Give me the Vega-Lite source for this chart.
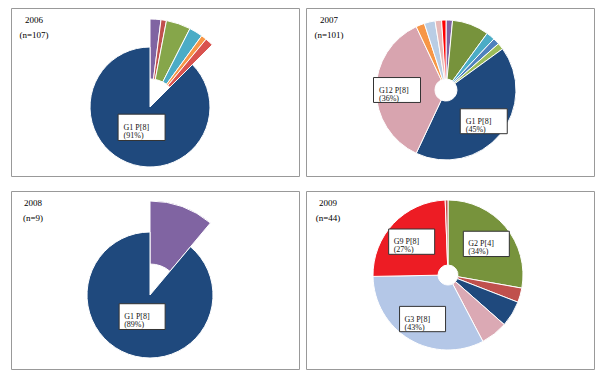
{
  "$schema": "https://vega.github.io/schema/vega-lite/v6.json",
  "background": "white",
  "padding": {"left": 10, "top": 7, "right": 0, "bottom": 0},
  "config": {
    "view": {"stroke": "#999999", "strokeWidth": 1},
    "text": {"lineBreak": "\n"},
    "title": {"anchor": "start", "frame": "group", "orient": "top", "baseline": "top", "offset": -32, "font": "Liberation Serif", "fontSize": 9, "fontWeight": "normal", "lineHeight": 15, "color": "#000000"}
  },
  "datasets": {
    "d2006": [
      {"i": 1, "slice": "other 1", "value": 2, "label": ""},
      {"i": 2, "slice": "other 2", "value": 1, "label": ""},
      {"i": 3, "slice": "other 3", "value": 4.5, "label": ""},
      {"i": 4, "slice": "other 4", "value": 2.5, "label": ""},
      {"i": 5, "slice": "other 5", "value": 1, "label": ""},
      {"i": 6, "slice": "other 6", "value": 1.5, "label": ""},
      {"i": 7, "slice": "G1 P[8]", "value": 87.5, "label": "G1 P[8]\n(91%)"}
    ],
    "d2007": [
      {"i": 1, "slice": "other 1", "value": 1.5, "label": ""},
      {"i": 2, "slice": "other 2", "value": 8.5, "label": ""},
      {"i": 3, "slice": "other 3", "value": 2, "label": ""},
      {"i": 4, "slice": "other 4", "value": 1.5, "label": ""},
      {"i": 5, "slice": "other 5", "value": 1.5, "label": ""},
      {"i": 6, "slice": "G1 P[8]", "value": 42, "label": "G1 P[8]\n(45%)"},
      {"i": 7, "slice": "G12 P[8]", "value": 36, "label": "G12 P[8]\n(36%)"},
      {"i": 8, "slice": "other 6", "value": 2, "label": ""},
      {"i": 9, "slice": "other 7", "value": 2.5, "label": ""},
      {"i": 10, "slice": "other 8", "value": 1.5, "label": ""},
      {"i": 11, "slice": "other 9", "value": 1, "label": ""}
    ],
    "d2008": [
      {"i": 1, "slice": "other 1", "value": 1, "label": ""},
      {"i": 2, "slice": "G1 P[8]", "value": 8, "label": "G1 P[8]\n(89%)"}
    ],
    "d2009": [
      {"i": 1, "slice": "G2 P[4]", "value": 27.8, "label": "G2 P[4]\n(34%)"},
      {"i": 2, "slice": "other 1", "value": 3.1, "label": ""},
      {"i": 3, "slice": "other 2", "value": 5.6, "label": ""},
      {"i": 4, "slice": "other 3", "value": 5.8, "label": ""},
      {"i": 5, "slice": "G3 P[8]", "value": 32.4, "label": "G3 P[8]\n(43%)"},
      {"i": 6, "slice": "G9 P[8]", "value": 24.7, "label": "G9 P[8]\n(27%)"},
      {"i": 7, "slice": "other 4", "value": 0.6, "label": ""}
    ]
  },
  "resolve": {"scale": {"color": "independent", "theta": "independent"}},
  "spacing": 13,
  "vconcat": [
    {
      "resolve": {"scale": {"color": "independent", "theta": "independent"}},
      "spacing": 5,
      "hconcat": [
        {
          "width": 288, "height": 168,
          "view": {"stroke": "#999999", "strokeWidth": 1},
          "data": {"name": "d2006"},
          "title": {"text": ["2006", "(n=107)"], "align": "center", "dx": 23},
          "layer": [
            {
              "mark": {"type": "arc", "stroke": "white", "strokeWidth": 1, "x": 139, "y": 99},
              "encoding": {
                "theta": {"field": "value", "type": "quantitative", "stack": true},
                "order": {"field": "i", "type": "quantitative"},
                "color": {"field": "slice", "type": "nominal", "legend": null,
                  "scale": {"domain": ["other 1", "other 2", "other 3", "other 4", "other 5", "other 6", "G1 P[8]"],
                            "range": ["#8064a2", "#c0504d", "#86a64a", "#4bacc6", "#f79646", "#d9534f", "#1f497d"]}},
                "radius": {"value": {"expr": "datum.slice === 'G1 P[8]' ? 60 : 88"}},
                "radius2": {"value": {"expr": "datum.slice === 'G1 P[8]' ? 0 : 28"}}
              }
            },
            {
              "transform": [
                {"joinaggregate": [{"op": "sum", "field": "value", "as": "total"}]},
                {"stack": "value", "groupby": [], "sort": [{"field": "i", "order": "ascending"}], "as": ["v0", "v1"]},
                {"filter": "datum.label !== ''"}
              ],
              "mark": {"type": "point", "shape": "M-1,-0.56H1V0.56H-1Z", "size": 2209, "filled": true, "fill": "white", "fillOpacity": 1, "stroke": "#333333", "strokeWidth": 1, "opacity": 1,
                "x": {"expr": "139 + 22*sin(PI*(datum.v0+datum.v1)/datum.total)"},
                "y": {"expr": "99 - 22*cos(PI*(datum.v0+datum.v1)/datum.total)"}},
              "encoding": {}
            },
            {
              "transform": [
                {"joinaggregate": [{"op": "sum", "field": "value", "as": "total"}]},
                {"stack": "value", "groupby": [], "sort": [{"field": "i", "order": "ascending"}], "as": ["v0", "v1"]},
                {"filter": "datum.label !== ''"}
              ],
              "mark": {"type": "text", "font": "Liberation Serif", "fontSize": 8, "lineHeight": 8, "color": "#111111", "align": "left", "dx": -18, "dy": 0.5, "baseline": "middle",
                "x": {"expr": "139 + 22*sin(PI*(datum.v0+datum.v1)/datum.total)"},
                "y": {"expr": "99 - 22*cos(PI*(datum.v0+datum.v1)/datum.total)"}},
              "encoding": {"text": {"field": "label"}}
            }
          ]
        },
        {
          "width": 288, "height": 168,
          "view": {"stroke": "#999999", "strokeWidth": 1},
          "data": {"name": "d2007"},
          "title": {"text": ["2007", "(n=101)"], "align": "center", "dx": 23},
          "layer": [
            {
              "mark": {"type": "arc", "stroke": "white", "strokeWidth": 1, "x": 140, "y": 82},
              "encoding": {
                "theta": {"field": "value", "type": "quantitative", "stack": true},
                "order": {"field": "i", "type": "quantitative"},
                "color": {"field": "slice", "type": "nominal", "legend": null,
                  "scale": {"domain": ["other 1", "other 2", "other 3", "other 4", "other 5", "G1 P[8]", "G12 P[8]", "other 6", "other 7", "other 8", "other 9"],
                            "range": ["#8064a2", "#77933c", "#4bacc6", "#4f81bd", "#9bbb59", "#1f497d", "#d8a4af", "#f79646", "#b9cde5", "#e6b9b8", "#ff0000"]}},
                "radius": {"value": 70},
                "radius2": {"value": 11}
              }
            },
            {
              "transform": [
                {"joinaggregate": [{"op": "sum", "field": "value", "as": "total"}]},
                {"stack": "value", "groupby": [], "sort": [{"field": "i", "order": "ascending"}], "as": ["v0", "v1"]},
                {"filter": "datum.label !== ''"}
              ],
              "mark": {"type": "point", "shape": "M-1,-0.53H1V0.53H-1Z", "size": 2209, "filled": true, "fill": "white", "fillOpacity": 1, "stroke": "#333333", "strokeWidth": 1, "opacity": 1,
                "x": {"expr": "140 + 49*sin(PI*(datum.v0+datum.v1)/datum.total)"},
                "y": {"expr": "82 - 49*cos(PI*(datum.v0+datum.v1)/datum.total)"}},
              "encoding": {}
            },
            {
              "transform": [
                {"joinaggregate": [{"op": "sum", "field": "value", "as": "total"}]},
                {"stack": "value", "groupby": [], "sort": [{"field": "i", "order": "ascending"}], "as": ["v0", "v1"]},
                {"filter": "datum.label !== ''"}
              ],
              "mark": {"type": "text", "font": "Liberation Serif", "fontSize": 8, "lineHeight": 8, "color": "#111111", "align": "left", "dx": -18, "dy": 0.5, "baseline": "middle",
                "x": {"expr": "140 + 49*sin(PI*(datum.v0+datum.v1)/datum.total)"},
                "y": {"expr": "82 - 49*cos(PI*(datum.v0+datum.v1)/datum.total)"}},
              "encoding": {"text": {"field": "label"}}
            }
          ]
        }
      ]
    },
    {
      "resolve": {"scale": {"color": "independent", "theta": "independent"}},
      "spacing": 5,
      "hconcat": [
        {
          "width": 288, "height": 178,
          "view": {"stroke": "#999999", "strokeWidth": 1},
          "data": {"name": "d2008"},
          "title": {"text": ["2008", "(n=9)"], "align": "center", "dx": 22},
          "layer": [
            {
              "mark": {"type": "arc", "stroke": "white", "strokeWidth": 1, "x": 139, "y": 104},
              "encoding": {
                "theta": {"field": "value", "type": "quantitative", "stack": true},
                "order": {"field": "i", "type": "quantitative"},
                "color": {"field": "slice", "type": "nominal", "legend": null,
                  "scale": {"domain": ["other 1", "G1 P[8]"], "range": ["#8064a2", "#1f497d"]}},
                "radius": {"value": {"expr": "datum.slice === 'G1 P[8]' ? 63 : 94"}},
                "radius2": {"value": {"expr": "datum.slice === 'G1 P[8]' ? 0 : 31"}}
              }
            },
            {
              "transform": [
                {"joinaggregate": [{"op": "sum", "field": "value", "as": "total"}]},
                {"stack": "value", "groupby": [], "sort": [{"field": "i", "order": "ascending"}], "as": ["v0", "v1"]},
                {"filter": "datum.label !== ''"}
              ],
              "mark": {"type": "point", "shape": "M-1,-0.56H1V0.56H-1Z", "size": 2116, "filled": true, "fill": "white", "fillOpacity": 1, "stroke": "#333333", "strokeWidth": 1, "opacity": 1,
                "x": {"expr": "139 + 23*sin(PI*(datum.v0+datum.v1)/datum.total)"},
                "y": {"expr": "104 - 23*cos(PI*(datum.v0+datum.v1)/datum.total)"}},
              "encoding": {}
            },
            {
              "transform": [
                {"joinaggregate": [{"op": "sum", "field": "value", "as": "total"}]},
                {"stack": "value", "groupby": [], "sort": [{"field": "i", "order": "ascending"}], "as": ["v0", "v1"]},
                {"filter": "datum.label !== ''"}
              ],
              "mark": {"type": "text", "font": "Liberation Serif", "fontSize": 8, "lineHeight": 8, "color": "#111111", "align": "left", "dx": -18, "dy": 0.5, "baseline": "middle",
                "x": {"expr": "139 + 23*sin(PI*(datum.v0+datum.v1)/datum.total)"},
                "y": {"expr": "104 - 23*cos(PI*(datum.v0+datum.v1)/datum.total)"}},
              "encoding": {"text": {"field": "label"}}
            }
          ]
        },
        {
          "width": 288, "height": 178,
          "view": {"stroke": "#999999", "strokeWidth": 1},
          "data": {"name": "d2009"},
          "title": {"text": ["2009", "(n=44)"], "align": "center", "dx": 22},
          "layer": [
            {
              "mark": {"type": "arc", "stroke": "white", "strokeWidth": 1, "x": 142, "y": 84},
              "encoding": {
                "theta": {"field": "value", "type": "quantitative", "stack": true},
                "order": {"field": "i", "type": "quantitative"},
                "color": {"field": "slice", "type": "nominal", "legend": null,
                  "scale": {"domain": ["G2 P[4]", "other 1", "other 2", "other 3", "G3 P[8]", "G9 P[8]", "other 4"],
                            "range": ["#77933c", "#c0504d", "#1f497d", "#dba9b4", "#b4c7e7", "#ed1c24", "#c0504d"]}},
                "radius": {"value": 75},
                "radius2": {"value": 10}
              }
            },
            {
              "transform": [
                {"joinaggregate": [{"op": "sum", "field": "value", "as": "total"}]},
                {"stack": "value", "groupby": [], "sort": [{"field": "i", "order": "ascending"}], "as": ["v0", "v1"]},
                {"filter": "datum.label !== ''"}
              ],
              "mark": {"type": "point", "shape": "M-1,-0.55H1V0.55H-1Z", "size": 2116, "filled": true, "fill": "white", "fillOpacity": 1, "stroke": "#333333", "strokeWidth": 1, "opacity": 1,
                "x": {"expr": "142 + 50*sin(PI*(datum.v0+datum.v1)/datum.total)"},
                "y": {"expr": "85 - 50*cos(PI*(datum.v0+datum.v1)/datum.total)"}},
              "encoding": {}
            },
            {
              "transform": [
                {"joinaggregate": [{"op": "sum", "field": "value", "as": "total"}]},
                {"stack": "value", "groupby": [], "sort": [{"field": "i", "order": "ascending"}], "as": ["v0", "v1"]},
                {"filter": "datum.label !== ''"}
              ],
              "mark": {"type": "text", "font": "Liberation Serif", "fontSize": 8, "lineHeight": 8, "color": "#111111", "align": "left", "dx": -18, "dy": 0.5, "baseline": "middle",
                "x": {"expr": "142 + 50*sin(PI*(datum.v0+datum.v1)/datum.total)"},
                "y": {"expr": "85 - 50*cos(PI*(datum.v0+datum.v1)/datum.total)"}},
              "encoding": {"text": {"field": "label"}}
            }
          ]
        }
      ]
    }
  ]
}
